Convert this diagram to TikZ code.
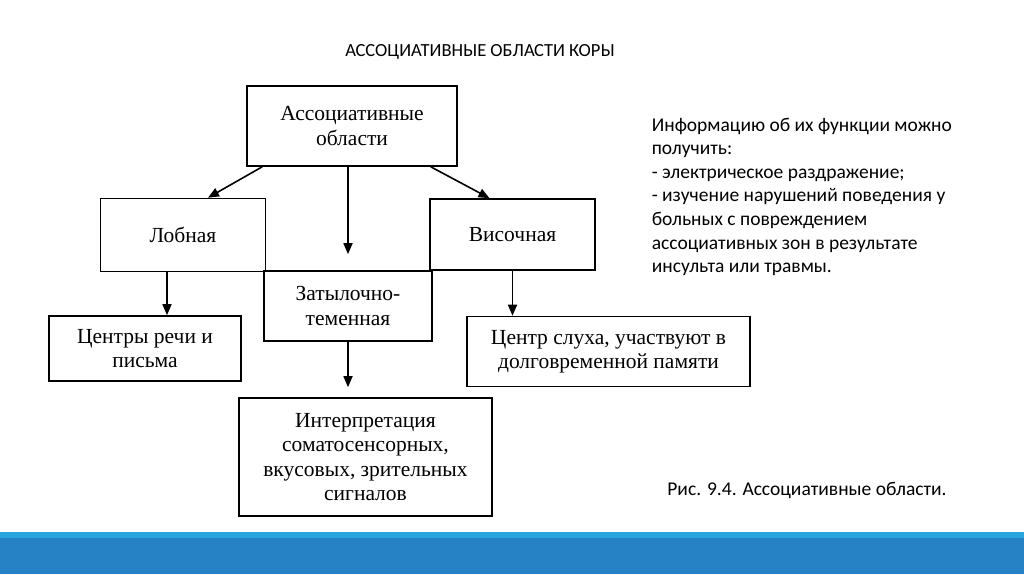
\documentclass[tikz,border=0pt]{standalone}
\usepackage{fontspec}
\setmainfont{Liberation Serif}
\newfontfamily\slidefont{Carlito}
\usetikzlibrary{arrows.meta}
\definecolor{barlight}{HTML}{29A6DF}
\definecolor{bardark}{HTML}{2682C5}

\begin{document}
\begin{tikzpicture}[x=1pt,y=-1pt,->,>={Stealth[length=11pt,width=9pt,inset=0pt]}
	,line width=1.6pt
	,every node/.style={font=\fontsize{21.5}{24.5}\selectfont}]
  \tikzstyle{area}
  =[draw,align=center,inner sep=2pt]

  \useasboundingbox (0,0) rectangle (1024,574);
  % slide bar
  \fill[barlight,draw=none] (0,532) rectangle (1024,538);
  \fill[bardark,draw=none] (0,538) rectangle (1024,574);

  % slide texts
  \node[font=\slidefont\fontsize{18.5}{22}\selectfont] (title) at (480,52)
    {АССОЦИАТИВНЫЕ ОБЛАСТИ КОРЫ};
  \node[font=\slidefont\fontsize{19.5}{23.6}\selectfont,align=left,anchor=north west,
    inner sep=0pt] (info) at (651,117)
    {Информацию об их функции можно\\
     получить:\\
     - электрическое раздражение;\\
     - изучение нарушений поведения у\\
     больных с повреждением\\
     ассоциативных зон в результате\\
     инсульта или травмы.};
  \node[font=\slidefont\fontsize{19.5}{23}\selectfont] (caption) at (807,490)
    {Рис. 9.4. Ассоциативные области.};

  % boxes
  \node[area,minimum width=210,minimum height=80] (top) at (352,126)
    {Ассоциативные\\области};
  \node[area,minimum width=165,minimum height=73] (lob) at (183,235) {Лобная};
  \node[area,minimum width=165,minimum height=71] (vis) at (512.5,234.5) {Височная};
  \node[area,minimum width=168,minimum height=70] (zat) at (348,306)
    {Затылочно-\\теменная};
  \node[area,minimum width=192,minimum height=65] (rech) at (145,348.5)
    {Центры речи и\\письма};
  \node[area,minimum width=283,minimum height=70] (sluh) at (608.5,351.5)
    {Центр слуха, участвуют в\\долговременной памяти};
  \node[area,minimum width=253,minimum height=118] (interp) at (365.5,457)
    {Интерпретация\\соматосенсорных,\\вкусовых, зрительных\\сигналов};

  % arrows, top to bottom
  \path ([xshift=16pt]top.south west) edge ([xshift=25pt]lob.north);
  \path (zat.north |- top.south)      edge [shorten >=16pt] (zat.north);
  \path ([xshift=-27pt]top.south east) edge ([xshift=-23pt]vis.north);
  \path ([xshift=-16pt]lob.south)     edge ([xshift=-16pt]lob.south |- rech.north);
  \path (vis.south)                   edge (vis.south |- sluh.north);
  \path (zat.south)                   edge [shorten >=10pt] (zat.south |- interp.north);
\end{tikzpicture}
\end{document}
